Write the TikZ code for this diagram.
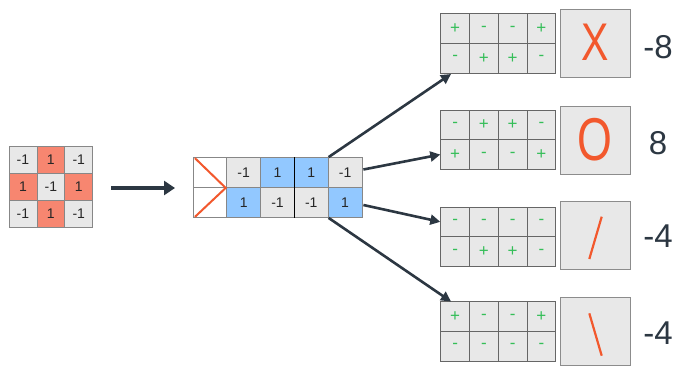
\documentclass[tikz,border=0pt]{standalone}
\usepackage{fontspec}
\usepackage{graphicx}
\setmainfont{Liberation Sans}
\usetikzlibrary{arrows.meta}
\definecolor{cgray}{RGB}{232,232,232}
\definecolor{csalmon}{RGB}{247,134,112}
\definecolor{cblue}{RGB}{146,200,255}
\definecolor{cborder}{RGB}{135,135,135}
\definecolor{cdark}{RGB}{44,55,66}
\definecolor{cgreen}{RGB}{52,190,88}
\definecolor{cgreenl}{RGB}{110,205,130}
\definecolor{corange}{RGB}{242,88,45}
\tikzset{
  cellbase/.style={draw=cborder, line width=0.8pt, inner sep=0pt, text=black!85,
    font=\fontsize{14}{16}\selectfont},
  lcell/.style={cellbase, minimum width=27.9pt, minimum height=26.9pt},
  mcell/.style={cellbase, minimum width=33.8pt, minimum height=30pt},
  rcell/.style={cellbase, draw=black!60, fill=cgray, text=cgreen, minimum width=28.75pt, minimum height=29.7pt,
    font=\fontsize{17}{18}\selectfont},
  bigbox/.style={draw=black!45, line width=0.9pt, fill=cgray, minimum width=70.7pt, minimum height=68pt, inner sep=0pt},
  score/.style={text=cdark, font=\fontsize{33}{36}\selectfont, inner sep=0pt},
  fan/.style={draw=cdark, line width=2.6pt, -{Triangle[length=10pt,width=10pt]}},
  glyph/.style={draw=corange, line width=2.2pt},
  bigletter/.style={text=corange, inner sep=0pt}
}
\begin{document}
\begin{tikzpicture}[x=1pt,y=-1pt]
\useasboundingbox (0,0) rectangle (687,373);
% left 3x3 grid
\foreach \r/\c/\v/\f in {1/1/-1/cgray,1/2/1/csalmon,1/3/-1/cgray,
                          2/1/1/csalmon,2/2/-1/cgray,2/3/1/csalmon,
                          3/1/-1/cgray,3/2/1/csalmon,3/3/-1/cgray}
  \node[lcell, fill=\f] (L-\r-\c) at ({9+27.9*(\c-0.5)},{146.7+26.9*(\r-0.5)}) {\v};
% middle block
\foreach \r in {1,2}
  \node[mcell, fill=white] (M-\r-1) at ({193+33.8*0.5},{157.5+30*(\r-0.5)}) {};
\foreach \r/\c/\v/\f in {1/2/-1/cgray,1/3/1/cblue,1/4/1/cblue,1/5/-1/cgray,
                          2/2/1/cblue,2/3/-1/cgray,2/4/-1/cgray,2/5/1/cblue}
  \node[mcell, fill=\f] (M-\r-\c) at ({193+33.8*(\c-0.5)},{157.5+30*(\r-0.5)}) {\v};
\draw[black, line width=1pt] (M-1-3.north east) -- (M-2-3.south east);
\draw[glyph, line width=2pt, line join=miter] ([shift={(2.3,1)}]M-1-1.north west) -- ([xshift=-1.5pt]M-1-1.south east) -- ([shift={(2.3,-1)}]M-2-1.south west);
% main arrow
\coordinate (a0) at (111,188);
\coordinate (a1) at (175,188);
\draw[draw=cdark, line width=4.5pt, -{Triangle[length=11pt,width=14pt]}] (a0) -- (a1);
% right grids
\foreach \g/\top/\sa/\sb/\sc/\sd/\se/\sf/\sg/\sh in {
   1/13.7/+/-/-/+/-/+/+/-,
   2/110/-/+/+/-/+/-/-/+,
   3/207/-/-/-/-/-/+/+/-,
   4/301.7/+/-/-/+/-/-/-/-}{
  \foreach \c/\s in {1/\sa,2/\sb,3/\sc,4/\sd}
    \node[rcell] (G\g-1-\c) at ({440.7+28.75*(\c-0.5)},{\top+14.85}) {\s};
  \foreach \c/\s in {1/\se,2/\sf,3/\sg,4/\sh}
    \node[rcell] (G\g-2-\c) at ({440.7+28.75*(\c-0.5)},{\top+29.7+14.85}) {\s};
}
% boxes
\node[bigbox] (B1) at (595.3,43.3) {};
\node[bigbox] (B2) at (595.3,140) {};
\node[bigbox] (B3) at (595.3,235) {};
\node[bigbox] (B4) at (595.3,331) {};
\node[bigletter, font=\fontsize{50}{50}\selectfont] (X) at ([yshift=1pt]B1.center) {\scalebox{0.82}[1.06]{X}};
\node[bigletter, font=\fontsize{56}{56}\selectfont] (O) at ([yshift=0pt]B2.center) {\scalebox{0.8}[1.08]{O}};
\draw[glyph] ([shift={(6.4,-18.3)}]B3.center) -- ([shift={(-6,24)}]B3.center);
\draw[glyph] ([shift={(-6,-17.7)}]B4.center) -- ([shift={(6.4,24.7)}]B4.center);
% scores
\node[score] (S1) at (658,47) {-8};
\node[score] (S2) at (658,143) {8};
\node[score] (S3) at (658,236) {-4};
\node[score] (S4) at (658,333) {-4};
% fan arrows
\coordinate (t1) at (451,74);
\coordinate (t4) at (451,301.5);
\draw[fan] (M-1-4.north east) -- (t1);
\draw[fan] ([xshift=1pt,yshift=3pt]M-1-5.east) -- (G2-2-1.west);
\draw[fan] ([xshift=1pt,yshift=-2.5pt]M-2-5.east) -- (G3-1-1.west);
\draw[fan] (M-2-4.south east) -- (t4);
\end{tikzpicture}
\end{document}
